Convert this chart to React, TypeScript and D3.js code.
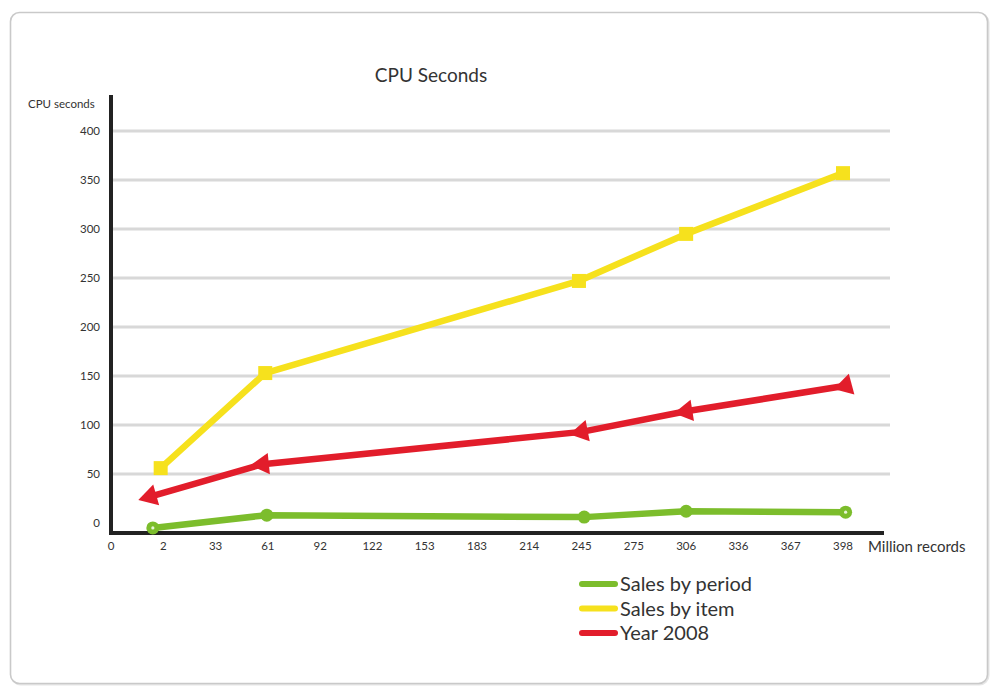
import React from "react";
import * as d3 from "d3";

// ---- data ----
const xTickLabels = ["0", "2", "33", "61", "92", "122", "153", "183", "214", "245", "275", "306", "336", "367", "398"];
const yTicks = [0, 50, 100, 150, 200, 250, 300, 350, 400];

// x positions expressed in tick-slot units (0 = "0", 14 = "398")
const periodX = [0.8, 2.98, 9.05, 11.0, 14.05];
const periodY = [-5, 8, 6, 12, 11];

const itemX = [0.95, 2.95, 8.95, 11.0, 14.0];
const itemY = [56, 153, 247, 295, 357];

const yearX = [0.75, 2.9, 9.0, 11.0, 14.05];
const yearY = [27, 60, 93, 114, 140];

const legendLabels = ["Sales by period", "Sales by item", "Year 2008"];

const GREEN = "#7cbd2c";
const YELLOW = "#f6e11d";
const RED = "#e21d2b";
const FONT = "Lato, 'Open Sans', sans-serif";

export default function App() {
  const W = 991;
  const H = 686;
  const x = d3.scaleLinear().domain([0, 14]).range([111, 843]);
  const y = d3.scaleLinear().domain([0, 400]).range([523, 131]);

  const line = d3
    .line<[number, number]>()
    .x((d) => x(d[0]))
    .y((d) => y(d[1]));

  const zip = (a: number[], b: number[]) => a.map((v, i) => [v, b[i]] as [number, number]);
  const period = zip(periodX, periodY);
  const item = zip(itemX, itemY);
  const year = zip(yearX, yearY);

  const tri = d3.symbol().type(d3.symbolTriangle).size(200)() as string;

  const yearAngles = year.map((d, i) => {
    if (i === year.length - 1) return 15; // pointing up
    const n = year[i + 1];
    const dx = x(d[0]) - x(n[0]);
    const dy = y(d[1]) - y(n[1]);
    return (Math.atan2(dy, dx) * 180) / Math.PI + 90;
  });

  return (
    <svg
      width={W}
      height={H}
      style={{ position: "absolute", left: 0, top: 0, display: "block", background: "#fff" }}
      fontFamily={FONT}
    >
      <rect x={11.5} y={13.5} width={977} height={671} rx={9} fill="none" stroke="#e6e6e6" strokeWidth={2} />
      <rect x={10.5} y={12.5} width={977} height={671} rx={9} fill="#fff" stroke="#c9c9c9" strokeWidth={1.6} />

      {/* title */}
      <text x={431} y={82} textAnchor="middle" fontSize={19} fill="#333">
        CPU Seconds
      </text>
      <text x={28} y={108} fontSize={11.5} fill="#333">
        CPU seconds
      </text>

      {/* grid */}
      {yTicks
        .filter((t) => t > 0)
        .map((t) => (
          <line key={t} x1={113} x2={890} y1={y(t)} y2={y(t)} stroke="#d8d8d8" strokeWidth={3} />
        ))}

      {/* y tick labels */}
      {yTicks.map((t) => (
        <text key={t} x={100} y={y(t) + 4} textAnchor="end" fontSize={11.5} fill="#333">
          {t}
        </text>
      ))}

      {/* x tick labels */}
      {xTickLabels.map((l, i) => (
        <text key={l} x={x(i)} y={550} textAnchor="middle" fontSize={11.5} fill="#333">
          {l}
        </text>
      ))}
      <text x={868} y={552} fontSize={15} fill="#333">
        Million records
      </text>

      {/* axes */}
      <line x1={111} x2={111} y1={95} y2={535} stroke="#222" strokeWidth={4} />
      <line x1={109} x2={884} y1={533} y2={533} stroke="#222" strokeWidth={4} />

      {/* series lines */}
      <path d={line(item) || ""} fill="none" stroke={YELLOW} strokeWidth={6.5} strokeLinejoin="round" />
      <path d={line(year) || ""} fill="none" stroke={RED} strokeWidth={6.5} strokeLinejoin="round" />
      <path d={line(period) || ""} fill="none" stroke={GREEN} strokeWidth={6.5} strokeLinejoin="round" />

      {/* markers */}
      {item.map((d, i) => (
        <rect key={i} x={x(d[0]) - 7} y={y(d[1]) - 7} width={14} height={14} fill={YELLOW} />
      ))}
      {year.map((d, i) => (
        <path
          key={i}
          d={tri}
          fill={RED}
          transform={`translate(${x(d[0])},${y(d[1])}) rotate(${yearAngles[i]})`}
        />
      ))}
      {period.map((d, i) => (
        <g key={i}>
          <circle cx={x(d[0])} cy={y(d[1])} r={6.5} fill={GREEN} />
          {(i === 0 || i === period.length - 1) && (
            <circle cx={x(d[0])} cy={y(d[1])} r={1.6} fill="#e8f5d8" />
          )}
        </g>
      ))}

      {/* legend */}
      {legendLabels.map((l, i) => (
        <g key={l} transform={`translate(0,${584 + i * 24.5})`}>
          <line x1={582} x2={615} y1={0} y2={0} stroke={[GREEN, YELLOW, RED][i]} strokeWidth={6} strokeLinecap="round" />
          <text x={620} y={7} fontSize={20} fill="#333">
            {l}
          </text>
        </g>
      ))}
    </svg>
  );
}
